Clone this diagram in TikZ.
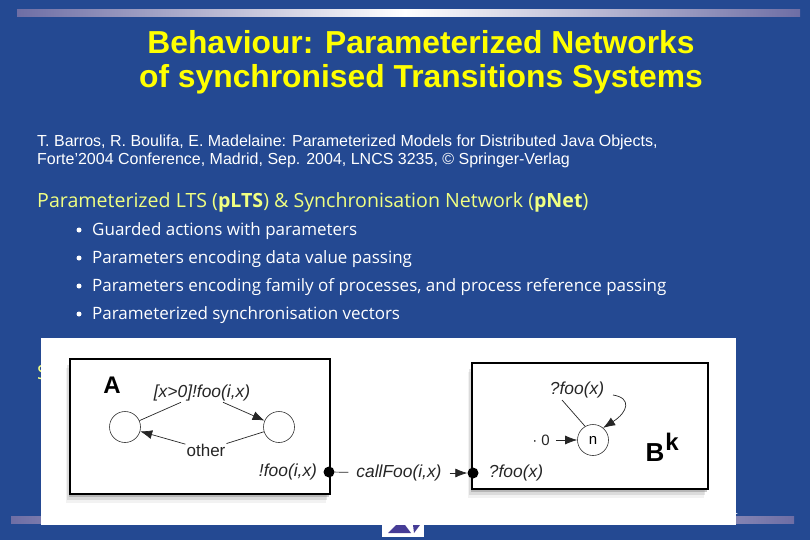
\documentclass[tikz,border=0pt]{standalone}
\usepackage{fontspec}
\setmainfont{Liberation Sans}
\newfontfamily\bodyfont{Open Sans}
\usetikzlibrary{shadows,arrows.meta}
\definecolor{slideblue}{RGB}{36,73,146}
\definecolor{titleyellow}{RGB}{255,255,0}
\definecolor{bodygreen}{RGB}{240,255,130}
\definecolor{bandgrey}{RGB}{110,110,165}
\definecolor{logopurple}{RGB}{70,60,150}
\tikzset{
  titletext/.style={text=titleyellow,font=\fontsize{31.8}{34}\selectfont\bfseries,align=center},
  reftext/.style={text=white,inner sep=0pt,font=\fontsize{16}{18}\selectfont,align=left,anchor=west},
  headtext/.style={text=bodygreen,inner sep=0pt,font=\bodyfont\fontsize{19.6}{21}\selectfont,anchor=west},
  itemtext/.style={text=white,inner sep=0pt,font=\bodyfont\fontsize{17}{19}\selectfont,anchor=west},
  bulletdot/.style={circle,fill=white,inner sep=0pt,minimum size=5pt},
  compbox/.style={draw=black,line width=1.1pt,fill=white,
    drop shadow={shadow xshift=-4pt,shadow yshift=-9pt,opacity=.1},
    drop shadow={shadow xshift=-3pt,shadow yshift=-6pt,opacity=.2},
    drop shadow={shadow xshift=-1pt,shadow yshift=-3pt,opacity=.4}},
  statenode/.style={circle,draw=black!80,line width=.6pt,minimum size=31pt,inner sep=0pt},
  labeltext/.style={font=\fontsize{17.4}{19}\selectfont\itshape,text=black!85,inner sep=1pt},
  portdot/.style={circle,fill=black,inner sep=0pt,minimum size=11pt},
  trans/.style={draw=black!85,line width=.7pt},
  transarrow/.style={trans,-{Latex[length=12pt,width=9pt]}},
}
\begin{document}
\begin{tikzpicture}[x=1pt,y=-1pt]
\useasboundingbox[fill=slideblue] (0,0) rectangle (810,540);
% bands
\fill[left color=bandgrey,right color=white] (17,10) rectangle (405,17);
\fill[left color=white,right color=bandgrey] (405,10) rectangle (800,17);
\fill[left color=bandgrey,right color=white] (11,516) rectangle (405,523);
\fill[left color=white,right color=bandgrey] (405,516) rectangle (794,523);
% text
\node[titletext] (title) at (421,62) {Behaviour: Parameterized Networks\\of synchronised Transitions Systems};
\node[reftext] (ref) at (37,151) {T. Barros, R. Boulifa, E. Madelaine: Parameterized Models for Distributed Java Objects,\\Forte'2004 Conference, Madrid, Sep. 2004, LNCS 3235, © Springer-Verlag};
\node[headtext] (head) at (37,202.5) {Parameterized LTS (\textbf{pLTS}) \& Synchronisation Network (\textbf{pNet})};
\foreach \y/\txt in {230/Guarded actions with parameters,
    258/Parameters encoding data value passing,
    286/{Parameters encoding family of processes, and process reference passing},
    314/Parameterized synchronisation vectors} {
  \node[bulletdot] at (79,\y) {};
  \node[itemtext] at (92,\y+1.5) {\txt};
}
\node[headtext] (cut) at (37,372) {S};
\node[text=white,font=\fontsize{11}{12}\selectfont] (pagenum) at (735,511) {1};
% logo
\fill[white] (382,518) rectangle (424,537);
\fill[logopurple] (388,533) -- (396,525) -- (405,525) -- (411,533) -- cycle;
\fill[logopurple] (413,525) -- (420,525) -- (414,533) -- cycle;
% picture panel
\fill[white] (41,338) rectangle (736,525);
% component A
\node[compbox,minimum width=260pt,minimum height=135pt] (boxA) at (200,426.5) {};
\node[font=\fontsize{24}{26}\selectfont\bfseries] (nameA) at (112,385) {A};
\node[statenode] (a0) at (125,427) {};
\node[statenode] (a1) at (279,427) {};
\node[labeltext] (guard) at (202,393) {[x>0]!foo(i,x)};
\node[labeltext,font=\fontsize{17}{19}\selectfont] (other) at (206,450) {other};
\draw[trans] (a0) -- (guard);
\draw[transarrow] (guard) -- (a1);
\draw[trans] (a1) -- (other);
\draw[transarrow] (other) -- (a0);
\node[labeltext] (sendlabel) at (288,472) {!foo(i,x)};
\node[portdot] (sendport) at (329,472) {};
% component B
\node[compbox,minimum width=236pt,minimum height=126pt] (boxB) at (590,426) {};
\node[statenode] (n) at (593,440) {\fontsize{15}{17}\selectfont n};
\node[labeltext] (loop) at (577,390) {?foo(x)};
\node[font=\fontsize{15}{17}\selectfont,text=black!85,inner xsep=6pt] (init) at (541,440) {· 0};
\coordinate (loopstart) at (562,400);
\coordinate (loopend) at (613,395);
\draw[trans] (loopstart) -- (n.120);
\draw[transarrow] (loopend) .. controls (632,398) and (628,412) .. (n.50);
\draw[transarrow] (init) -- (n);
\node[font=\fontsize{26}{28}\selectfont\bfseries] (nameB) at (655,453) {B};
\node[font=\fontsize{24}{26}\selectfont\bfseries] (expB) at (672,442) {k};
\node[labeltext] (recvlabel) at (516,473) {?foo(x)};
\node[portdot] (recvport) at (473,473) {};
% sync vector
\node[labeltext,inner xsep=8pt] (sync) at (399,473) {callFoo(i,x)};
\draw[trans] (sendport) -- (sync);
\draw[transarrow] (sync) -- (recvport);
\end{tikzpicture}
\end{document}
